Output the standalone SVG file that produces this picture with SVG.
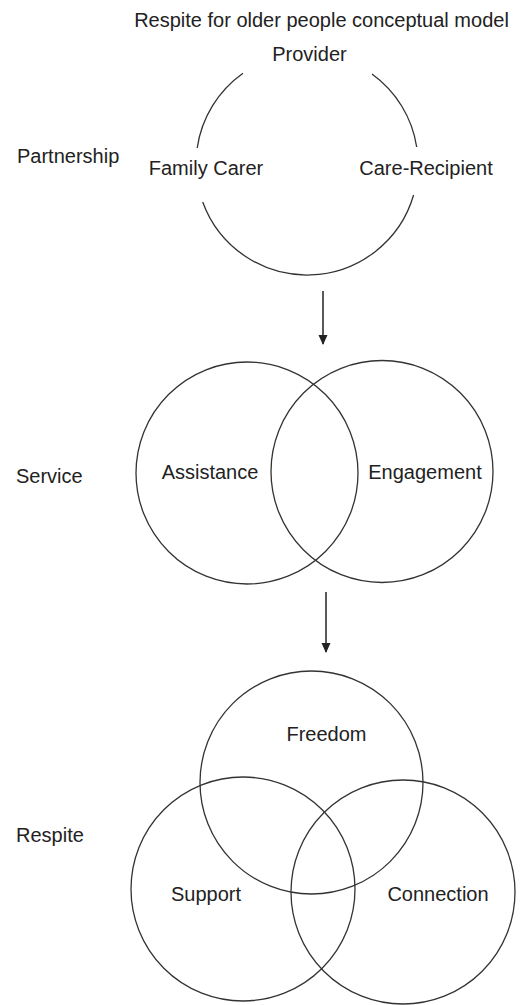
<svg xmlns="http://www.w3.org/2000/svg" width="529" height="1005" viewBox="0 0 529 1005">
<style>
text{font-family:"Liberation Sans",Arial,Helvetica,sans-serif;font-size:20px;fill:#222}
.c{fill:none;stroke:#333;stroke-width:1.3}
.m{text-anchor:middle}
.ln{stroke:#222;stroke-width:1.5;fill:none}
</style>
<defs>
<marker id="ah" markerWidth="10" markerHeight="10" refX="9" refY="5" orient="auto" markerUnits="userSpaceOnUse">
<path d="M0,0.5 L10,5 L0,9.5 Z" fill="#222"/>
</marker>
</defs>
<rect width="529" height="1005" fill="#fff"/>
<text id="title" x="321.5" y="27" class="m">Respite for older people conceptual model</text>
<text id="lbl-partnership" x="17" y="163">Partnership</text>
<text id="lbl-service" x="16" y="483">Service</text>
<text id="lbl-respite" x="16" y="842">Respite</text>
<g id="partnership">
<path class="c" d="M243 73.3 A111 111 0 0 0 197.2 148"/>
<path class="c" d="M372 74 A111 111 0 0 1 416.7 147"/>
<path class="c" d="M202.7 202 A111 111 0 0 0 413.6 195"/>
<text id="provider" x="309.5" y="61" class="m">Provider</text>
<text id="family-carer" x="206" y="175" class="m">Family Carer</text>
<text id="care-recipient" x="426" y="175" class="m">Care-Recipient</text>
</g>
<g id="assistance">
<circle class="c" cx="247" cy="473" r="111"/>
<text x="210" y="479" class="m">Assistance</text>
</g>
<g id="engagement">
<circle class="c" cx="382" cy="471.5" r="111"/>
<text x="425" y="479" class="m">Engagement</text>
</g>
<g id="freedom">
<circle class="c" cx="311.5" cy="782.5" r="111.5"/>
<text x="326.5" y="741" class="m">Freedom</text>
</g>
<g id="support">
<circle class="c" cx="243" cy="889" r="112"/>
<text x="206" y="901" class="m">Support</text>
</g>
<g id="connection">
<circle class="c" cx="403" cy="892" r="112"/>
<text x="438" y="901" class="m">Connection</text>
</g>
<g id="connectors">
<line class="ln" x1="323" y1="291" x2="323" y2="344" marker-end="url(#ah)"/>
<line class="ln" x1="326" y1="592" x2="326" y2="652" marker-end="url(#ah)"/>
</g>
</svg>
